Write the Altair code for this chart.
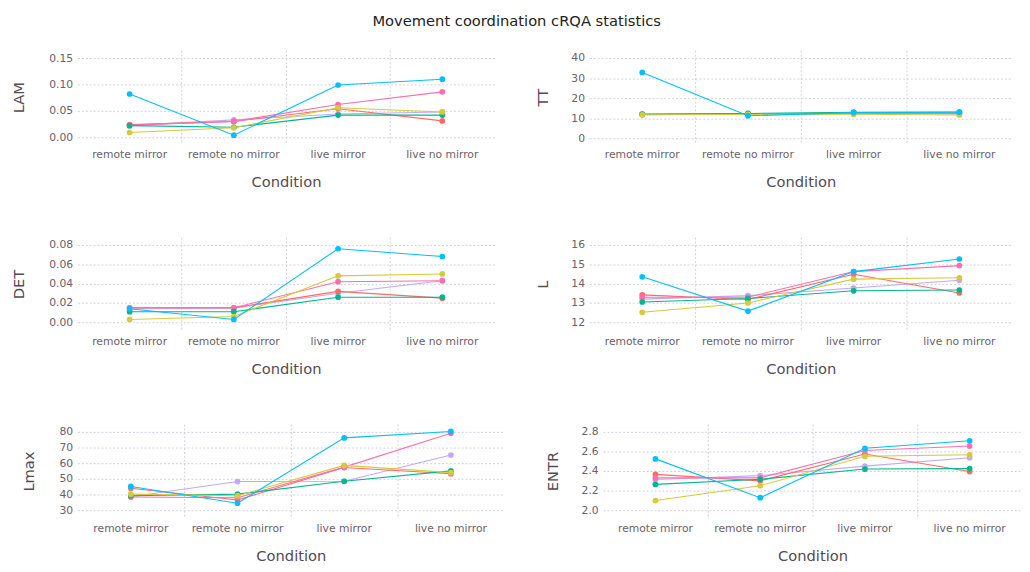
import altair as alt
import pandas as pd

CONDITIONS = ["remote mirror", "remote no mirror", "live mirror", "live no mirror"]
# draw order: purple, red, pink, green, yellow, cyan
SERIES = ["A", "B", "C", "D", "E", "F"]
COLORS = ["#C0A8FF", "#FF6A62", "#FF6DAE", "#00B78D", "#D4CA3A", "#00BFFF"]

# values per series (same order as SERIES), one list per condition order
LAM = [
    [0.022, 0.033, 0.044, 0.048],
    [0.024, 0.030, 0.054, 0.031],
    [0.023, 0.030, 0.062, 0.086],
    [0.022, 0.019, 0.042, 0.042],
    [0.009, 0.018, 0.056, 0.048],
    [0.082, 0.004, 0.099, 0.110],
]
TT = [
    [11.8, 12.1, 12.5, 12.6],
    [12.1, 12.2, 12.6, 12.2],
    [12.0, 12.2, 12.4, 12.3],
    [11.9, 12.4, 13.0, 13.1],
    [11.7, 11.9, 12.0, 11.6],
    [32.8, 11.2, 12.8, 13.0],
]
DET = [
    [0.014, 0.0147, 0.030, 0.043],
    [0.015, 0.015, 0.032, 0.025],
    [0.015, 0.015, 0.042, 0.043],
    [0.011, 0.011, 0.026, 0.026],
    [0.003, 0.006, 0.048, 0.050],
    [0.014, 0.003, 0.076, 0.068],
]
L = [
    [13.20, 13.38, 13.77, 14.17],
    [13.42, 13.18, 14.48, 13.52],
    [13.30, 13.30, 14.62, 14.93],
    [13.05, 13.23, 13.63, 13.67],
    [12.52, 13.00, 14.23, 14.30],
    [14.35, 12.58, 14.62, 15.27],
]
LMAX = [
    [38.6, 48.3, 48.5, 65.2],
    [44.0, 36.6, 57.2, 53.3],
    [38.5, 38.0, 57.5, 79.0],
    [39.3, 40.3, 48.5, 55.1],
    [40.3, 39.3, 58.6, 54.0],
    [45.2, 34.5, 76.1, 80.2],
]
ENTR = [
    [2.313, 2.353, 2.450, 2.536],
    [2.366, 2.300, 2.573, 2.395],
    [2.330, 2.330, 2.610, 2.655],
    [2.264, 2.316, 2.420, 2.425],
    [2.099, 2.250, 2.550, 2.566],
    [2.524, 2.128, 2.632, 2.708],
]

FONT = "DejaVu Sans"
GRID = "#D0D0E0"


def panel(metric, values, domain, ticks, fmt, width, height=96, title_pad=21):
    rows = []
    for s, vals in zip(SERIES, values):
        for c, v in zip(CONDITIONS, vals):
            rows.append({"series": s, "Condition": c, "value": v})
    df = pd.DataFrame(rows)
    x = alt.X(
        "Condition:N",
        sort=CONDITIONS,
        scale=alt.Scale(type="band", paddingInner=0, paddingOuter=0),
        axis=alt.Axis(
            title="Condition",
            bandPosition=0,
            labelAngle=0,
            labelPadding=5,
            titlePadding=15,
            grid=True,
            gridOpacity=alt.condition("datum.value === 'remote mirror'", alt.value(0), alt.value(1)),
        ),
    )
    y = alt.Y(
        "value:Q",
        scale=alt.Scale(domain=domain, nice=False, zero=False),
        axis=alt.Axis(title=metric, values=ticks, format=fmt, labelPadding=5, titlePadding=title_pad),
    )
    color = alt.Color("series:N", scale=alt.Scale(domain=SERIES, range=COLORS), legend=None)
    base = alt.Chart(df).encode(x=x, y=y, color=color)
    lines = base.mark_line(strokeWidth=1.1)
    pts = base.mark_circle(size=34, opacity=1)
    return alt.layer(lines, pts).properties(width=width, height=height)


p1 = panel("LAM", LAM, [-0.013, 0.165], [0, 0.05, 0.10, 0.15], ".2f", 426, title_pad=23)
p2 = panel("TT", TT, [-2.9, 43.9], [0, 10, 20, 30, 40], "d", 432)
p3 = panel("DET", DET, [-0.009, 0.088], [0, 0.02, 0.04, 0.06, 0.08], ".2f", 426, title_pad=23)
p4 = panel("L", L, [11.55, 16.4], [12, 13, 14, 15, 16], "d", 432)
p5 = panel("Lmax", LMAX, [25.1, 84.9], [30, 40, 50, 60, 70, 80], "d", 436, title_pad=23)
p6 = panel("ENTR", ENTR, [1.921, 2.879], [2.0, 2.2, 2.4, 2.6, 2.8], ".1f", 428)

chart = (
    alt.vconcat(
        alt.hconcat(p1, p2, spacing=42),
        alt.hconcat(p3, p4, spacing=42),
        alt.hconcat(p5, p6, spacing=42),
        spacing=49,
    )
    .properties(
        title=alt.TitleParams(
            "Movement coordination cRQA statistics",
            anchor="middle",
            font=FONT,
            fontSize=15,
            fontWeight="normal",
            color="#222222",
            offset=22,
        ),
        padding={"left": 3, "top": 0, "right": 0, "bottom": 0},
    )
    .configure_view(stroke=None)
    .configure_axis(
        domain=False,
        ticks=False,
        tickSize=0,
        grid=True,
        gridColor=GRID,
        gridDash=[2, 2],
        gridWidth=1,
        labelFont=FONT,
        labelFontSize=11,
        labelColor="#6c606b",
        titleFont=FONT,
        titleFontSize=15,
        titleFontWeight="normal",
        titleColor="#564a55",
    )
)

chart.save("out.html", embed_options={"renderer": "svg", "actions": False})
